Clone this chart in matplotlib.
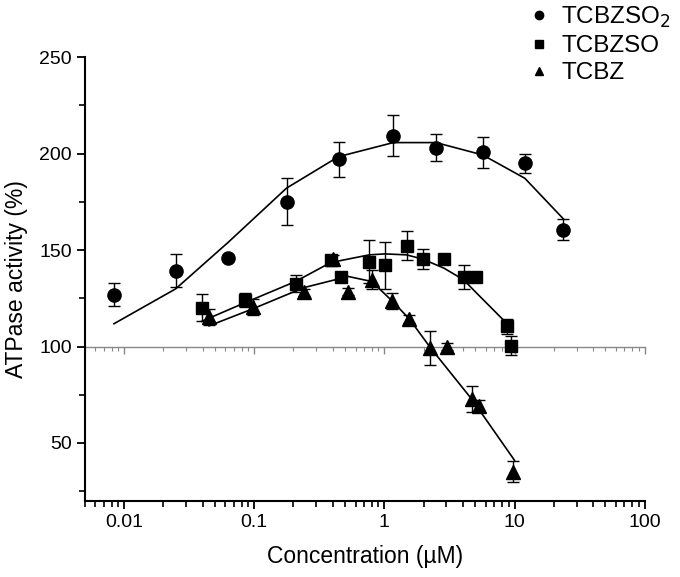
import matplotlib
matplotlib.use("Agg")
import matplotlib.pyplot as plt
from matplotlib.ticker import LogLocator, FuncFormatter, MultipleLocator, NullFormatter
from matplotlib.lines import Line2D
import numpy as np

plt.rcParams['font.family'] = ['Liberation Sans Narrow', 'Liberation Sans', 'DejaVu Sans']

# TCBZSO2 (circles)
so2_x = [0.00835, 0.0249, 0.063, 0.177, 0.444, 1.17, 2.49, 5.69, 12.0, 23.7]
so2_y = [126.8, 139.2, 145.8, 175.1, 197.1, 209.3, 203.1, 200.7, 195.0, 160.5]
so2_err = [6, 8.5, 0, 12, 9, 10.5, 7, 8, 5, 5.5]
so2_fit = [111.8, 129.9, 154.0, 182.1, 198.4, 205.7, 205.7, 199.3, 187.2, 166.2]

# TCBZSO (squares)
so_x = [0.0393, 0.0855, 0.2075, 0.386, 0.463, 0.764, 1.01, 1.48, 1.97, 2.87, 4.06, 5.06, 8.71, 9.35]
so_y = [120.2, 124.0, 132.5, 144.6, 136.0, 144.0, 142.0, 152.3, 145.4, 145.4, 136.1, 136.1, 110.4, 100.4]
so_err = [7, 3.5, 4.5, 2, 2.5, 11, 12, 7.7, 5, 2, 6.4, 0, 4, 5]
so_fit_x = [0.0393, 0.0855, 0.2075, 0.386, 0.764, 1.01, 1.48, 1.97, 2.87, 4.06, 5.06, 8.71]
so_fit = [113.0, 122.8, 133.7, 143.5, 147.5, 148.0, 147.5, 145.3, 140.6, 134.6, 128.0, 112.0]

# TCBZ (triangles)
tc_x = [0.0449, 0.098, 0.24, 0.40, 0.527, 0.80, 1.15, 1.55, 2.25, 3.01, 4.69, 5.36, 9.8]
tc_y = [115.2, 120.4, 128.0, 145.3, 128.5, 134.6, 123.5, 114.4, 99.2, 100.0, 72.7, 69.3, 35.2]
tc_err = [4, 4, 2, 2, 2, 5, 4, 2, 9, 2, 6.6, 3, 5.5]
tc_fit_x = [0.0449, 0.098, 0.24, 0.527, 0.80, 1.15, 1.55, 2.25, 4.69, 10.0]
tc_fit = [110.7, 119.6, 130.5, 136.3, 133.7, 123.5, 114.4, 99.5, 72.7, 41.0]

labels = ['TCBZSO$_2$', 'TCBZSO', 'TCBZ']
markers = ['o', 's', '^']

fig = plt.figure(figsize=(6.8, 5.77), dpi=100)
ax = fig.add_axes([0.125, 0.132, 0.823, 0.769])

# reference line at 100% drawn as a second x axis
ax2 = ax.twiny()
ax2.set_xscale('log')
ax2.set_xlim(0.005, 100)
for s in ['top', 'left', 'right']:
    ax2.spines[s].set_visible(False)
ax2.spines['bottom'].set_position(('data', 100))
ax2.spines['bottom'].set_color('#888888')
ax2.spines['bottom'].set_linewidth(1.0)
ax2.xaxis.set_ticks_position('bottom')
ax2.tick_params(axis='x', which='both', direction='out', colors='#888888', labelbottom=False, labeltop=False)
ax2.tick_params(axis='x', which='major', length=5, width=1)
ax2.tick_params(axis='x', which='minor', length=3, width=0.8)
ax2.xaxis.set_major_locator(LogLocator(base=10, numticks=20))
ax2.xaxis.set_minor_locator(LogLocator(base=10, subs=np.arange(2, 10), numticks=20))
ax2.xaxis.set_minor_formatter(NullFormatter())

ax.set_xscale('log')
ax.set_xlim(0.005, 100)
ax.set_ylim(20, 250)
ax.set_zorder(ax2.get_zorder() + 1)
ax.patch.set_visible(False)

ax.plot(so2_x, so2_fit, color='black', lw=1.2)
ax.plot(so_fit_x, so_fit, color='black', lw=1.2)
ax.plot(tc_fit_x, tc_fit, color='black', lw=1.2)

ekw = dict(ecolor='black', elinewidth=1.0, capsize=4, capthick=1.0, linestyle='none', color='black')
ax.errorbar(so2_x, so2_y, yerr=so2_err, marker=markers[0], markersize=9.5, **ekw)
ax.errorbar(so_x, so_y, yerr=so_err, marker=markers[1], markersize=8, **ekw)
ax.errorbar(tc_x, tc_y, yerr=tc_err, marker=markers[2], markersize=9.5, **ekw)

for s in ['top', 'right']:
    ax.spines[s].set_visible(False)
for s in ['left', 'bottom']:
    ax.spines[s].set_linewidth(1.5)

ax.xaxis.set_major_locator(LogLocator(base=10, numticks=20))
ax.xaxis.set_minor_locator(LogLocator(base=10, subs=np.arange(2, 10), numticks=20))
ax.xaxis.set_minor_formatter(NullFormatter())
ax.xaxis.set_major_formatter(FuncFormatter(lambda v, p: '{:g}'.format(v)))
ax.yaxis.set_major_locator(MultipleLocator(50))
ax.yaxis.set_minor_locator(MultipleLocator(25))
ax.tick_params(axis='both', which='major', direction='out', length=6, width=1.3, labelsize=14)
ax.tick_params(axis='both', which='minor', direction='out', length=4, width=1.2)

ax.set_xlabel('Concentration (µM)', fontsize=16.5, labelpad=10)
ax.set_ylabel('ATPase activity (%)', fontsize=16.5, labelpad=8)

handles = [Line2D([], [], color='black', linestyle='none', marker=m, markersize=6) for m in markers]
ax.legend(handles, labels, loc='upper left', bbox_to_anchor=(0.75, 1.03), bbox_transform=fig.transFigure,
          frameon=False, fontsize=17.5, handlelength=0.6,
          handletextpad=0.6, labelspacing=0.22)

fig.savefig('out.png', dpi=100)
